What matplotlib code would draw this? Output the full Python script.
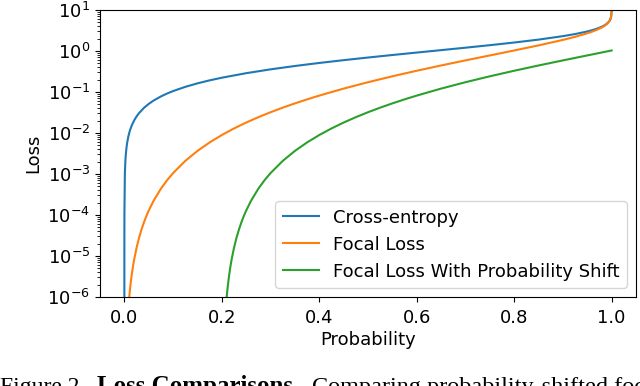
import matplotlib
matplotlib.use("Agg")
import matplotlib.pyplot as plt

# Valores (perdida en escala logaritmica)
prob_ce = [1e-07, 1e-06, 1e-05, 0.0001, 0.001, 0.002, 0.003, 0.004, 0.005, 0.006, 0.008,
           0.01, 0.012, 0.015, 0.02, 0.025, 0.03, 0.04, 0.05, 0.06, 0.075, 0.0875, 0.1,
           0.125, 0.15, 0.175, 0.2, 0.25, 0.3, 0.35, 0.4, 0.45, 0.5, 0.55, 0.6, 0.65,
           0.7, 0.75, 0.8, 0.85, 0.9, 0.925, 0.95, 0.96, 0.97, 0.98, 0.985, 0.99, 0.995,
           0.9975, 0.999, 0.9999, 0.99999]
loss_ce = [1e-07, 1e-06, 1e-05, 0.0001, 0.0010005, 0.002002, 0.0030045, 0.004008,
           0.005013, 0.006018, 0.008032, 0.01005, 0.012073, 0.015114, 0.0202, 0.025318,
           0.03046, 0.040822, 0.05129, 0.061875, 0.07796, 0.091567, 0.1054, 0.133531,
           0.1625, 0.192372, 0.2231, 0.2877, 0.3567, 0.4308, 0.5108, 0.5978, 0.6931,
           0.7985, 0.9163, 1.0498, 1.204, 1.3863, 1.6094, 1.8971, 2.3026, 2.5903, 2.9957,
           3.2189, 3.5066, 3.912, 4.1997, 4.6052, 5.2983, 5.9915, 6.9078, 9.2103, 11.5129]

prob_focal = [0.005, 0.0075, 0.01, 0.0125, 0.015, 0.0175, 0.02, 0.025, 0.03, 0.035, 0.04,
              0.045, 0.05, 0.06, 0.075, 0.0875, 0.1, 0.125, 0.15, 0.175, 0.2, 0.225, 0.25,
              0.275, 0.3, 0.325, 0.35, 0.375, 0.4, 0.45, 0.5, 0.55, 0.6, 0.65, 0.7, 0.75,
              0.8, 0.85, 0.9, 0.925, 0.95, 0.96, 0.97, 0.98, 0.985, 0.99, 0.995, 0.9975,
              0.999, 0.9999, 0.99999]
loss_focal = [1.253e-07, 4.2347e-07, 1.005e-06, 1.9655e-06, 3.40e-06, 5.4068e-06, 8.08e-06,
              1.5824e-05, 2.741e-05, 4.3643e-05, 6.531e-05, 9.3239e-05, 0.0001282,
              0.00022275, 0.0004385, 0.00070106, 0.001054, 0.0020864, 0.003656, 0.0058914,
              0.008926, 0.012904, 0.01798, 0.02432, 0.0321, 0.041515, 0.05277, 0.066094,
              0.08173, 0.1211, 0.1733, 0.2415, 0.3299, 0.4435, 0.59, 0.7798, 1.030,
              1.3707, 1.8651, 2.2163, 2.7036, 2.9665, 3.2994, 3.7571, 4.0747, 4.5135,
              5.2455, 5.9615, 6.894, 9.2085, 11.5127]

prob_shift = [0.205, 0.2075, 0.21, 0.2125, 0.215, 0.2175, 0.22, 0.225, 0.23, 0.235, 0.24,
              0.245, 0.25, 0.26, 0.275, 0.2875, 0.3, 0.325, 0.35, 0.375, 0.4, 0.425, 0.45,
              0.475, 0.5, 0.525, 0.55, 0.575, 0.6, 0.65, 0.7, 0.75, 0.8, 0.85, 0.9, 0.95,
              1.0]
loss_shift = [1.253e-07, 4.2347e-07, 1.005e-06, 1.9655e-06, 3.40e-06, 5.4068e-06, 8.08e-06,
              1.5824e-05, 2.741e-05, 4.3643e-05, 6.531e-05, 9.3239e-05, 0.0001282,
              0.00022275, 0.0004385, 0.00070106, 0.001054, 0.0020864, 0.003656, 0.0058914,
              0.008926, 0.012904, 0.01798, 0.02432, 0.0321, 0.041515, 0.05277, 0.066094,
              0.08173, 0.1211, 0.1733, 0.2415, 0.3299, 0.4435, 0.59, 0.7798, 1.030]

etiquetas = ["Cross-entropy", "Focal Loss", "Focal Loss With Probability Shift"]

fs = 13
fig = plt.figure(figsize=(6.4, 3.86), dpi=100)
ax = fig.add_axes([100 / 640, 89 / 386, 536 / 640, 287 / 386])

ax.plot(prob_ce, loss_ce, color="#1f77b4", lw=1.5, label=etiquetas[0])
ax.plot(prob_focal, loss_focal, color="#ff7f0e", lw=1.5, label=etiquetas[1])
ax.plot(prob_shift, loss_shift, color="#2ca02c", lw=1.5, label=etiquetas[2])

ax.set_yscale("log")
ax.set_ylim(1e-6, 1e1)
ax.set_xlim(-0.05, 1.05)
ax.set_xticks([0.0, 0.2, 0.4, 0.6, 0.8, 1.0])
ax.tick_params(labelsize=fs)
ax.tick_params(axis="x", pad=5)
ax.set_xlabel("Probability", fontsize=fs, labelpad=3)
ax.set_ylabel("Loss", fontsize=fs)
ax.legend(loc="lower right", fontsize=fs)

# Pie de figura recortado por el borde inferior
serif = "Liberation Serif"
yb = -6.5 / 386
fig.text(0.0, yb, "Figure 2.", fontsize=17, family=serif, va="baseline")
fig.text(97 / 640, yb, "Loss Comparisons.", fontsize=18, family=serif,
         weight="bold", va="baseline")
fig.text(312 / 640, yb, "Comparing probability-shifted focal loss", fontsize=17.5,
         family=serif, va="baseline")

fig.savefig("out.png", dpi=100)
